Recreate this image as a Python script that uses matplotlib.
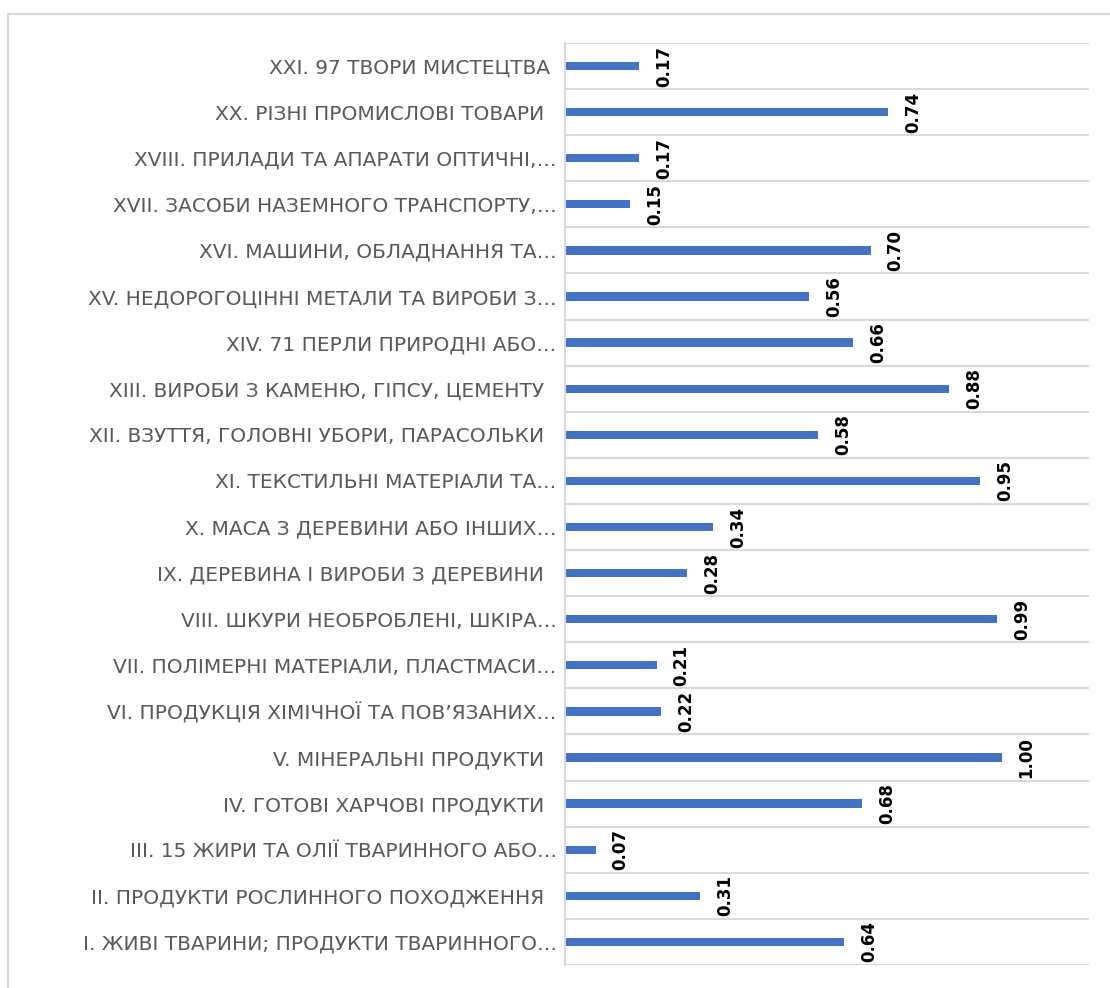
import matplotlib
matplotlib.use('Agg')
import matplotlib.pyplot as plt
from matplotlib.patches import Rectangle

# categories listed top -> bottom as in the chart
categories = [
    'XXI. 97 ТВОРИ МИСТЕЦТВА ',
    'XX. РІЗНІ ПРОМИСЛОВІ ТОВАРИ  ',
    'XVIII. ПРИЛАДИ ТА АПАРАТИ ОПТИЧНІ,…',
    'XVII. ЗАСОБИ НАЗЕМНОГО ТРАНСПОРТУ,…',
    'XVI. МАШИНИ, ОБЛАДНАННЯ ТА…',
    'XV. НЕДОРОГОЦІННІ МЕТАЛИ ТА ВИРОБИ З…',
    'XIV. 71 ПЕРЛИ ПРИРОДНІ АБО…',
    'XIII. ВИРОБИ З КАМЕНЮ, ГІПСУ, ЦЕМЕНТУ  ',
    'XII. ВЗУТТЯ, ГОЛОВНІ УБОРИ, ПАРАСОЛЬКИ  ',
    'XI. ТЕКСТИЛЬНІ МАТЕРІАЛИ ТА…',
    'X. МАСА З ДЕРЕВИНИ АБО ІНШИХ…',
    'IX. ДЕРЕВИНА І ВИРОБИ З ДЕРЕВИНИ  ',
    'VIII. ШКУРИ НЕОБРОБЛЕНІ, ШКІРА…',
    'VII. ПОЛІМЕРНІ МАТЕРІАЛИ, ПЛАСТМАСИ…',
    'VI. ПРОДУКЦІЯ ХІМІЧНОЇ ТА ПОВ’ЯЗАНИХ…',
    'V. МІНЕРАЛЬНІ ПРОДУКТИ  ',
    'IV. ГОТОВІ ХАРЧОВІ ПРОДУКТИ  ',
    'III. 15 ЖИРИ ТА ОЛІЇ ТВАРИННОГО АБО…',
    'II. ПРОДУКТИ РОСЛИННОГО ПОХОДЖЕННЯ  ',
    'I. ЖИВІ ТВАРИНИ; ПРОДУКТИ ТВАРИННОГО…',
]
values = [0.17, 0.74, 0.17, 0.15, 0.70, 0.56, 0.66, 0.88, 0.58, 0.95,
          0.34, 0.28, 0.99, 0.21, 0.22, 1.00, 0.68, 0.07, 0.31, 0.64]

# barh draws bottom-up
cats = categories[::-1]
vals = values[::-1]
pos = list(range(len(cats)))

fig = plt.figure(figsize=(11.1, 9.88), dpi=100)
ax = fig.add_axes([0.509, 0.0233, 0.472, 0.9332])

bars = ax.barh(pos, vals, height=0.18, color='#4472C4')

for y, v in zip(pos, vals):
    ax.annotate('%.2f' % v, xy=(v, y), xytext=(18, 0), textcoords='offset points',
                rotation=90, ha='center', va='center', fontsize=12,
                fontweight='bold', family='DejaVu Sans', color='black')

ax.set_xlim(0, 1.2)
ax.set_ylim(-0.5, len(cats) - 0.5)
ax.set_xticks([])
ax.set_yticks(pos)
ax.set_yticklabels(cats, fontsize=14.5, color='#595959', family='DejaVu Sans')
ax.tick_params(axis='y', length=0, pad=6)

# horizontal separators between categories
ax.set_yticks([p - 0.5 for p in pos] + [len(cats) - 0.5], minor=True)
ax.tick_params(axis='y', which='minor', length=0)
ax.grid(axis='y', which='minor', color='#d9d9d9', lw=1.5)
ax.set_axisbelow(True)

for s in ('top', 'right', 'bottom'):
    ax.spines[s].set_visible(False)
ax.spines['left'].set_color('#d9d9d9')
ax.spines['left'].set_linewidth(1.5)

# chart area border (cut off at right/bottom like the screenshot)
fig.patches.append(Rectangle((0.0072, -0.2), 1.5, 1.1858, transform=fig.transFigure,
                             fill=False, edgecolor='#d9d9d9', lw=1.5))

fig.savefig('out.png', dpi=100)
